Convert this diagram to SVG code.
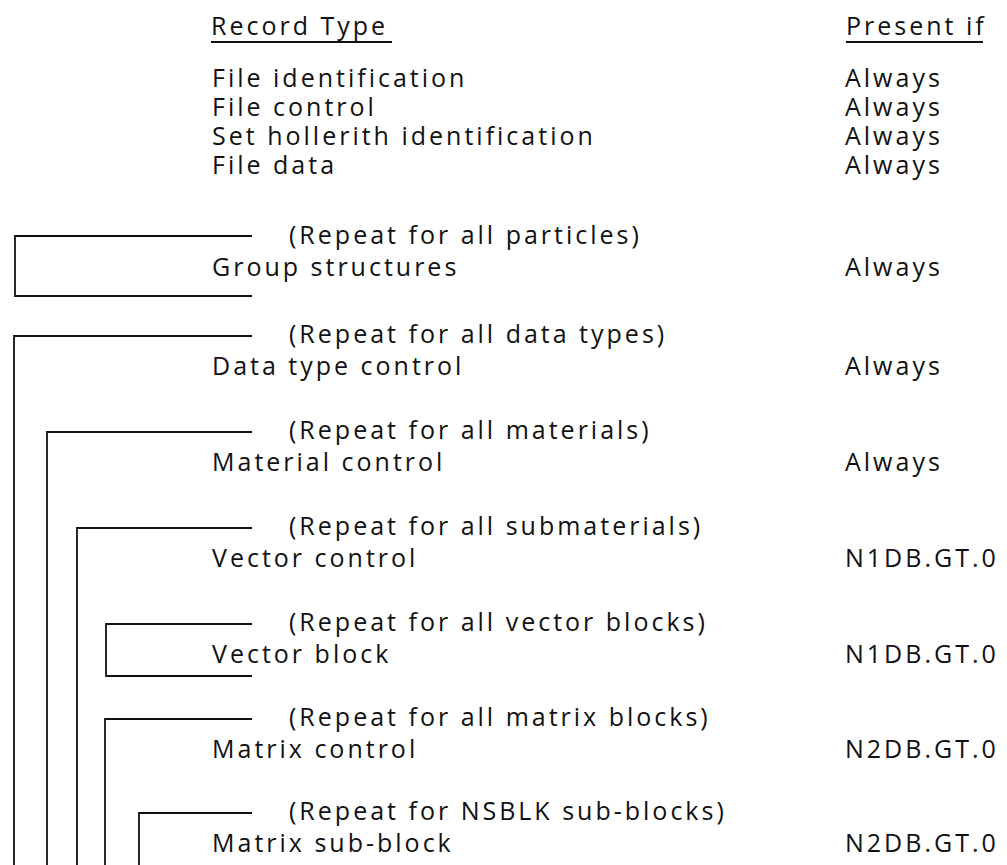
<svg xmlns="http://www.w3.org/2000/svg" width="1007" height="865" viewBox="0 0 1007 865">
<style>
text{font-family:"Open Sans","Noto Sans","Liberation Sans",sans-serif;font-size:25px;letter-spacing:3px;fill:#111}
.ln{fill:none;stroke:#111;stroke-width:1.8}
</style>
<rect width="1007" height="865" fill="#fff"/>
<g id="headers">
<text x="211" y="35">Record Type</text>
<line class="ln" x1="211" y1="42" x2="392" y2="42"/>
<text x="846" y="35">Present if</text>
<line class="ln" x1="846" y1="42" x2="983" y2="42"/>
</g>
<g id="rec-file-id"><text x="212" y="87">File identification</text><text x="845" y="87">Always</text></g>
<g id="rec-file-control"><text x="212" y="116">File control</text><text x="845" y="116">Always</text></g>
<g id="rec-set-hollerith"><text x="212" y="145">Set hollerith identification</text><text x="845" y="145">Always</text></g>
<g id="rec-file-data"><text x="212" y="174">File data</text><text x="845" y="174">Always</text></g>
<g id="rec-group"><text x="289" y="244">(Repeat for all particles)</text><text x="212" y="276">Group structures</text><text x="845" y="276">Always</text></g>
<g id="rec-data-type"><text x="289" y="343">(Repeat for all data types)</text><text x="212" y="375">Data type control</text><text x="845" y="375">Always</text></g>
<g id="rec-material"><text x="289" y="439">(Repeat for all materials)</text><text x="212" y="471">Material control</text><text x="845" y="471">Always</text></g>
<g id="rec-vector-control"><text x="289" y="535">(Repeat for all submaterials)</text><text x="212" y="567">Vector control</text><text x="845" y="567">N1DB.GT.0</text></g>
<g id="rec-vector-block"><text x="289" y="631">(Repeat for all vector blocks)</text><text x="212" y="663">Vector block</text><text x="845" y="663">N1DB.GT.0</text></g>
<g id="rec-matrix-control"><text x="289" y="726">(Repeat for all matrix blocks)</text><text x="212" y="758">Matrix control</text><text x="845" y="758">N2DB.GT.0</text></g>
<g id="rec-matrix-sub"><text x="289" y="820">(Repeat for NSBLK sub-blocks)</text><text x="212" y="852">Matrix sub-block</text><text x="845" y="852">N2DB.GT.0</text></g>
<g id="connectors">
<path class="ln" d="M252 236 H15 V296 H252"/>
<path class="ln" d="M252 336 H14 V865"/>
<path class="ln" d="M252 432 H47 V865"/>
<path class="ln" d="M252 528 H77 V865"/>
<path class="ln" d="M252 624 H106 V676 H252"/>
<path class="ln" d="M252 719 H105 V865"/>
<path class="ln" d="M252 813 H139 V865"/>
</g>
</svg>
